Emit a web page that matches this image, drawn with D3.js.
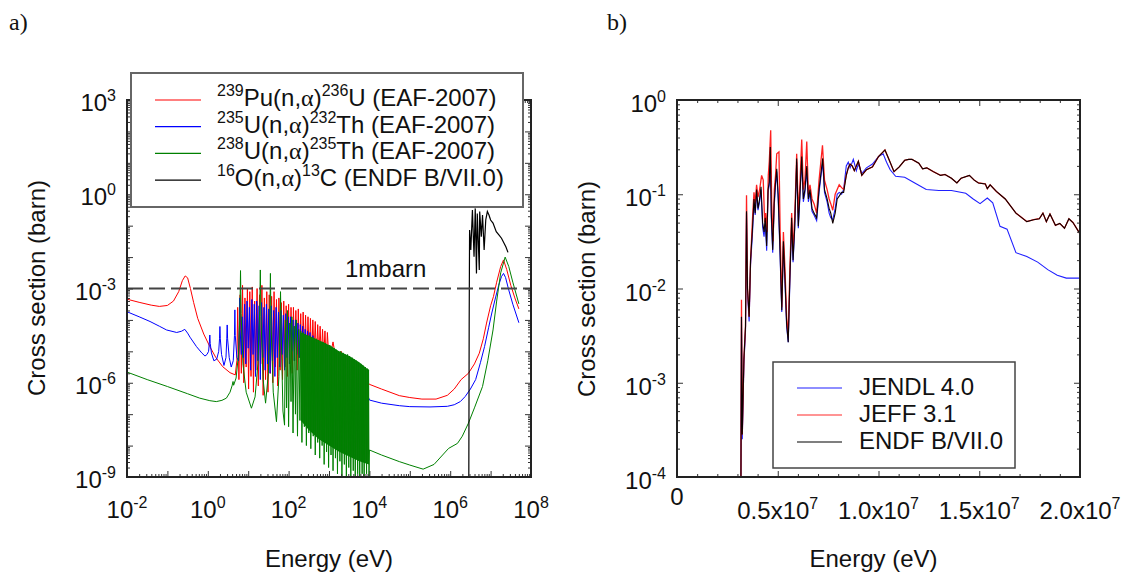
<!DOCTYPE html>
<html><head><meta charset="utf-8">
<script src="https://cdn.jsdelivr.net/npm/d3@7"></script>
<style>
body{margin:0;background:#fff}
text{font-family:"Liberation Sans",Arial,sans-serif;fill:#111}
</style></head>
<body><svg id="chart" width="1126" height="573"></svg>
<script>
// ---------- Panel a data: [log10(E/eV), log10(sigma/barn)] ----------
const pu239 = [[-2,-3.34],[-1.7,-3.44],[-1.4,-3.53],[-1.2,-3.57],[-1.0,-3.54],[-0.85,-3.4],[-0.72,-3.1],[-0.63,-2.75],[-0.56,-2.6],[-0.5,-2.66],[-0.43,-3.0],[-0.35,-3.45],[-0.25,-3.95],[-0.1,-4.45],[0.05,-4.85],[0.2,-5.2],[0.37,-5.49],[0.55,-5.68],[0.68,-5.75],
[0.72,-5.3],[0.74,-3.6],[0.77,-5.9],[0.8,-3.2],[0.83,-5.7],[0.86,-2.9],[0.89,-6.0],[0.92,-3.3],[0.95,-5.5],[0.98,-3.0],[1.01,-6.2],[1.04,-3.1],[1.07,-5.8],[1.1,-2.95],[1.13,-6.3],[1.16,-3.4],[1.19,-5.6],[1.22,-3.0],[1.25,-6.1],[1.28,-3.2],[1.31,-5.4],[1.34,-2.9],[1.37,-6.4],[1.40,-3.3],[1.43,-5.9],[1.46,-3.1],[1.49,-6.3],[1.52,-3.2],[1.55,-5.7],[1.58,-3.25],[1.61,-6.0],[1.64,-3.1],[1.67,-5.5],[1.70,-3.35],[1.73,-6.1],[1.76,-3.3],[1.79,-5.6],[1.82,-3.45],[1.85,-5.9],[1.88,-3.4],[1.91,-5.5],[1.94,-3.55],[1.97,-5.8],[2.0,-3.5],[2.03,-5.4],[2.06,-3.6],[2.09,-5.7],[2.12,-3.6],[2.15,-5.3],[2.18,-3.7],[2.21,-5.6],[2.24,-3.65],[2.27,-5.2],[2.30,-3.8],[2.33,-5.5],[2.36,-3.75],[2.39,-5.1],[2.42,-3.85],[2.45,-5.4],[2.48,-3.9],[2.51,-5.2],[2.54,-3.95],[2.57,-5.3],[2.60,-4.0],[2.63,-5.1],[2.66,-4.05],[2.69,-5.3],[2.72,-4.15],[2.75,-5.2],[2.78,-4.2],[2.81,-5.3],[2.84,-4.3],[2.87,-5.2],[2.90,-4.35],[2.93,-5.4],[2.96,-4.4],[3.0,-5.3],[3.1,-4.7],[3.2,-5.5],[3.3,-5.0],[3.5,-5.6],[3.7,-5.4],[3.9,-5.9],
[4.0,-6.05],[4.3,-6.2],[4.74,-6.41],[5.0,-6.47],[5.3,-6.52],[5.65,-6.52],[5.93,-6.4],[6.1,-6.2],[6.27,-5.9],[6.45,-5.7],[6.6,-5.4],[6.72,-5.06],[6.82,-4.6],[6.9,-4.1],[7.0,-3.55],[7.07,-3.26],[7.15,-2.8],[7.25,-2.3],[7.32,-2.09],[7.4,-2.4],[7.5,-2.9],[7.6,-3.3],[7.7,-3.65]];

const u235 = [[-2,-3.74],[-1.7,-3.9],[-1.43,-4.05],[-1.2,-4.2],[-1.02,-4.32],[-0.77,-4.4],[-0.65,-4.36],[-0.57,-4.3],[-0.5,-4.42],[-0.44,-4.55],[-0.28,-4.85],[-0.15,-5.05],[-0.07,-5.15],[-0.02,-5.1],[0.02,-5.0],[0.04,-4.7],[0.05,-4.48],[0.06,-4.75],[0.09,-5.05],[0.15,-5.3],[0.22,-5.25],[0.27,-5.0],[0.29,-4.6],[0.3,-4.21],[0.31,-4.6],[0.34,-5.1],[0.4,-5.45],[0.45,-5.2],[0.47,-4.6],[0.48,-4.16],[0.49,-4.6],[0.53,-5.2],[0.58,-5.5],[0.63,-5.3],[0.66,-4.5],[0.67,-3.68],[0.68,-4.5],[0.72,-5.2],[0.76,-5.3],[0.78,-4.3],[0.79,-3.3],[0.80,-4.3],[0.83,-5.1],
[0.85,-3.9],[0.88,-5.2],[0.91,-3.5],[0.94,-5.4],[0.97,-3.4],[1.0,-4.9],[1.03,-3.6],[1.06,-5.6],[1.09,-3.35],[1.12,-5.1],[1.15,-3.5],[1.18,-5.8],[1.21,-3.4],[1.24,-5.3],[1.27,-3.55],[1.30,-5.9],[1.33,-3.45],[1.36,-5.2],[1.39,-3.6],[1.42,-5.6],[1.45,-3.5],[1.48,-5.4],[1.51,-3.65],[1.54,-5.7],[1.57,-3.55],[1.60,-5.3],[1.63,-3.7],[1.66,-5.8],[1.69,-3.6],[1.72,-5.2],[1.75,-3.75],[1.78,-5.5],[1.81,-3.7],[1.84,-5.1],[1.87,-3.85],[1.90,-5.6],[1.93,-3.8],[1.96,-5.2],[1.99,-3.9],[2.02,-5.4],[2.05,-3.9],[2.08,-5.0],[2.11,-4.0],[2.14,-5.3],[2.17,-4.0],[2.20,-5.1],[2.23,-4.1],[2.26,-5.2],[2.29,-4.15],[2.32,-5.0],[2.35,-4.2],[2.38,-5.3],[2.41,-4.3],[2.44,-5.1],[2.47,-4.35],[2.50,-5.2],[2.53,-4.4],[2.56,-5.3],[2.6,-4.5],[2.7,-5.4],[2.8,-4.7],[3.0,-5.5],[3.2,-5.2],[3.5,-5.9],[3.8,-5.8],
[4.0,-6.55],[4.3,-6.65],[4.74,-6.73],[5.0,-6.76],[5.5,-6.77],[5.93,-6.75],[6.1,-6.7],[6.25,-6.6],[6.37,-6.44],[6.5,-6.2],[6.63,-5.9],[6.75,-5.35],[6.85,-4.85],[6.95,-4.25],[7.03,-3.78],[7.12,-3.3],[7.2,-2.9],[7.27,-2.62],[7.32,-2.52],[7.37,-2.65],[7.45,-3.05],[7.55,-3.5],[7.7,-4.09]];

const u238 = [[-2,-5.66],[-1.5,-5.9],[-1.0,-6.12],[-0.5,-6.35],[-0.2,-6.49],[0.05,-6.57],[0.21,-6.6],[0.35,-6.56],[0.46,-6.49],[0.55,-6.3],[0.6,-6.1],[0.625,-5.96],[0.64,-6.08],[0.7,-5.85],[0.76,-5.1],[0.795,-3.8],[0.81,-2.43],[0.825,-3.8],[0.87,-5.4],[0.95,-6.3],[1.08,-6.81],[1.17,-6.45],[1.24,-5.4],[1.285,-3.7],[1.3,-2.41],[1.315,-3.9],[1.37,-5.9],[1.43,-6.65],[1.5,-5.7],[1.535,-4.0],[1.55,-2.52],[1.565,-4.1],[1.62,-6.3],[1.7,-7.24],[1.76,-5.8],[1.79,-3.9],[1.8,-3.1],[1.82,-4.6],[1.86,-6.9],[1.9,-7.35],
[1.92,-4.0],[1.95,-6.8],[1.97,-3.7],[2.0,-7.4],[2.03,-4.1],[2.06,-6.6],[2.08,-3.9],[2.11,-7.6],[2.14,-4.2],[2.17,-7.0],[2.19,-4.0],[2.22,-7.7],[2.25,-4.3],[2.28,-7.2],[2.30,-4.35],[2.33,-7.9],[2.36,-4.4],[2.39,-7.4],[2.41,-4.45],[2.44,-8.0],[2.47,-4.5],[2.50,-7.6],[2.52,-4.5],[2.55,-8.1],[2.58,-4.55],[2.61,-7.7],[2.63,-4.6],[2.66,-8.3],[2.69,-4.6],[2.72,-7.9],[2.74,-4.65],[2.77,-8.4],[2.80,-4.7],[2.83,-8.0],[2.85,-4.7],[2.88,-8.6],[2.91,-4.75],[2.94,-8.2],[2.96,-4.8],[2.99,-8.7],[3.02,-4.8],[3.05,-8.3],[3.07,-4.85],[3.10,-8.8],[3.13,-4.9],[3.16,-8.4],[3.18,-4.95],[3.21,-8.9],[3.24,-5.0],[3.27,-8.5],[3.29,-5.0],[3.32,-9.0],[3.35,-5.05],[3.38,-8.6],[3.40,-5.1],[3.43,-9.0],[3.46,-5.1],[3.49,-8.7],[3.51,-5.15],[3.54,-9.0],[3.57,-5.2],[3.60,-8.8],[3.62,-5.25],[3.65,-9.0],[3.68,-5.3],[3.71,-8.9],[3.73,-5.35],[3.76,-9.0],[3.79,-5.4],[3.82,-8.9],[3.84,-5.45],[3.87,-9.0],[3.90,-5.5],[3.93,-8.9],[3.95,-5.55],[3.98,-5.6],[3.99,-9.0],[4.0,-8.14],
[4.3,-8.3],[4.74,-8.51],[5.0,-8.62],[5.33,-8.75],[5.6,-8.6],[5.96,-8.09],[6.18,-7.93],[6.3,-7.7],[6.45,-7.29],[6.6,-6.8],[6.8,-6.12],[6.93,-5.3],[7.06,-4.32],[7.15,-3.4],[7.25,-2.5],[7.36,-2.0],[7.45,-2.3],[7.55,-2.8],[7.7,-3.49]];

// dense U-238 resonance band (solid core), log10 E with upper / lower log10 sigma
const u238BandE  = [2.3,2.5,2.75,3.0,3.25,3.5,3.75,3.99];
const u238BandHi = [-4.4,-4.5,-4.65,-4.8,-5.0,-5.15,-5.35,-5.6];
const u238BandLo = [-7.2,-7.5,-7.8,-8.0,-8.2,-8.35,-8.5,-8.6];

const o16 = [[6.46,-9.5],[6.47,-4.0],[6.475,-2.5],[6.48,-1.14],[6.51,-1.77],[6.55,-0.5],[6.59,-1.99],[6.62,-0.45],[6.65,-2.52],[6.67,-0.61],[6.72,-2.41],[6.73,-0.55],[6.77,-1.35],[6.8,-0.66],[6.84,-1.77],[6.88,-0.82],[6.92,-0.55],[6.96,-0.66],[7.0,-0.82],[7.06,-0.92],[7.14,-1.19],[7.21,-1.3],[7.27,-1.4],[7.33,-1.55],[7.38,-1.68],[7.43,-1.85]];

const oneMbarn = 1e-3;

// ---------- Panel b data: [E in MeV, log10(sigma/barn)] ----------
const endf = [[3.17,-4.2],[3.2,-2.3],[3.24,-3.55],[3.32,-2.75],[3.4,-2.4],[3.45,-1.18],[3.5,-2.0],[3.58,-2.3],[3.65,-1.7],[3.75,-1.35],[3.82,-1.05],[3.88,-1.2],[3.95,-0.95],[4.02,-1.15],[4.1,-1.05],[4.17,-0.92],[4.25,-1.3],[4.32,-1.4],[4.38,-1.25],[4.45,-1.55],[4.52,-0.95],[4.58,-0.87],[4.63,-0.5],[4.68,-1.2],[4.75,-1.59],[4.82,-1.1],[4.88,-0.9],[4.95,-0.73],[5.02,-1.0],[5.1,-1.5],[5.2,-2.23],[5.28,-1.5],[5.36,-1.9],[5.44,-2.37],[5.52,-2.57],[5.6,-1.9],[5.69,-1.25],[5.76,-1.7],[5.84,-1.35],[5.94,-0.62],[6.02,-1.34],[6.1,-1.0],[6.19,-0.6],[6.27,-1.05],[6.35,-0.95],[6.44,-0.7],[6.52,-1.05],[6.6,-0.95],[6.7,-1.15],[6.8,-1.2],[6.93,-1.25],[7.05,-0.95],[7.23,-0.62],[7.32,-0.95],[7.45,-1.05],[7.55,-1.15],[7.63,-1.2],[7.73,-1.31],[7.85,-1.2],[7.95,-1.05],[8.05,-1.02],[8.17,-0.98],[8.27,-0.98],[8.4,-0.8],[8.5,-0.72],[8.59,-0.68],[8.7,-0.7],[8.8,-0.75],[9.0,-0.65],[9.17,-0.8],[9.4,-0.74],[9.7,-0.71],[10.0,-0.6],[10.23,-0.55],[10.32,-0.53],[10.5,-0.62],[10.77,-0.76],[11.03,-0.71],[11.3,-0.64],[11.5,-0.63],[11.66,-0.63],[12.0,-0.67],[12.19,-0.73],[12.4,-0.72],[12.72,-0.76],[13.08,-0.8],[13.3,-0.79],[13.62,-0.83],[13.89,-0.88],[14.1,-0.83],[14.51,-0.8],[14.75,-0.85],[14.96,-0.88],[15.3,-0.89],[15.4,-0.94],[15.54,-0.9],[15.85,-0.97],[16.29,-1.05],[16.82,-1.2],[17.36,-1.29],[17.7,-1.27],[17.98,-1.26],[18.16,-1.2],[18.33,-1.29],[18.51,-1.21],[18.78,-1.33],[19.0,-1.31],[19.23,-1.36],[19.45,-1.26],[19.65,-1.3],[20.0,-1.42]];

const jeffLow = [[3.17,-4.2],[3.2,-2.12],[3.24,-3.55],[3.32,-2.75],[3.4,-2.4],[3.45,-1.01],[3.5,-2.0],[3.58,-2.3],[3.65,-1.7],[3.75,-1.25],[3.82,-0.98],[3.88,-1.1],[3.95,-0.9],[4.02,-1.03],[4.1,-0.95],[4.2,-0.8],[4.28,-0.85],[4.35,-1.3],[4.4,-1.2],[4.47,-1.4],[4.53,-0.8],[4.58,-0.65],[4.65,-0.32],[4.7,-1.1],[4.77,-1.5],[4.83,-0.95],[4.89,-0.8],[4.95,-0.57],[5.06,-0.55],[5.12,-1.4],[5.2,-2.2],[5.28,-1.4],[5.36,-1.8],[5.44,-2.3],[5.52,-2.5],[5.6,-1.8],[5.69,-1.2],[5.76,-1.6],[5.84,-1.25],[5.94,-0.57],[6.02,-1.2],[6.1,-0.9],[6.19,-0.42],[6.27,-0.95],[6.35,-0.85],[6.44,-0.44],[6.52,-1.0],[6.6,-0.9],[6.7,-1.05],[6.8,-1.1],[6.93,-1.2],[7.05,-0.85],[7.22,-0.48],[7.32,-0.85],[7.45,-0.95],[7.55,-1.05],[7.63,-1.1],[7.73,-1.17],[7.85,-1.0],[7.95,-0.95],[8.05,-0.9],[8.17,-0.93],[8.27,-0.95]];

const jendl = [[3.17,-4.2],[3.2,-2.3],[3.24,-3.6],[3.32,-2.8],[3.4,-2.45],[3.45,-1.2],[3.5,-2.05],[3.58,-2.35],[3.65,-1.75],[3.75,-1.4],[3.82,-1.08],[3.88,-1.22],[3.95,-0.97],[4.02,-1.17],[4.1,-1.08],[4.17,-0.95],[4.25,-1.35],[4.32,-1.45],[4.38,-1.3],[4.45,-1.6],[4.52,-0.98],[4.58,-0.9],[4.63,-0.55],[4.68,-1.25],[4.75,-1.62],[4.82,-1.15],[4.88,-0.93],[4.95,-0.76],[5.02,-1.05],[5.1,-1.55],[5.2,-2.25],[5.28,-1.55],[5.36,-1.95],[5.44,-2.4],[5.52,-2.57],[5.6,-1.95],[5.69,-1.3],[5.76,-1.72],[5.84,-1.38],[5.94,-0.66],[6.02,-1.36],[6.1,-1.03],[6.19,-0.64],[6.27,-1.08],[6.35,-0.98],[6.44,-0.74],[6.52,-1.08],[6.6,-0.98],[6.7,-1.18],[6.8,-1.22],[6.93,-1.28],[7.05,-0.98],[7.23,-0.66],[7.32,-0.98],[7.45,-1.08],[7.55,-1.2],[7.63,-1.25],[7.73,-1.27],[7.85,-1.15],[7.95,-1.0],[8.05,-0.98],[8.17,-1.0],[8.27,-0.95],[8.4,-0.7],[8.5,-0.66],[8.59,-0.72],[8.75,-0.63],[8.9,-0.75],[9.0,-0.68],[9.17,-0.78],[9.4,-0.72],[9.7,-0.68],[10.0,-0.6],[10.23,-0.57],[10.4,-0.66],[10.58,-0.74],[10.85,-0.81],[11.3,-0.82],[11.8,-0.88],[12.37,-0.95],[13.0,-0.96],[13.62,-0.96],[14.33,-0.99],[14.7,-1.05],[15.04,-1.1],[15.4,-1.04],[15.67,-1.09],[16.03,-1.34],[16.38,-1.37],[16.82,-1.62],[17.36,-1.66],[17.9,-1.72],[18.4,-1.8],[18.87,-1.86],[19.32,-1.89],[20.0,-1.89]];

// ---------- tick labels ----------
const aXTicks = [["10","-2",1e-2],["10","0",1e0],["10","2",1e2],["10","4",1e4],["10","6",1e6],["10","8",1e8]];
const aYTicks = [["10","3",1e3],["10","0",1e0],["10","-3",1e-3],["10","-6",1e-6],["10","-9",1e-9]];
const bXTicks = [["0.5x10","7",5e6],["1.0x10","7",1e7],["1.5x10","7",1.5e7],["2.0x10","7",2e7]];
const bYTicks = [["10","0",1e0],["10","-1",1e-1],["10","-2",1e-2],["10","-3",1e-3],["10","-4",1e-4]];

// ---------- legends ----------
const legendA = [
  {color:"#ff0000", pre:"239", a:"Pu(n,", b:")", post:"236", tail:"U (EAF-2007)"},
  {color:"#0000ff", pre:"235", a:"U(n,", b:")", post:"232", tail:"Th (EAF-2007)"},
  {color:"#008000", pre:"238", a:"U(n,", b:")", post:"235", tail:"Th (EAF-2007)"},
  {color:"#000000", pre:"16",  a:"O(n,", b:")", post:"13",  tail:"C (ENDF B/VII.0)"}
];
const legendB = [["JENDL 4.0","#1f1fff"],["JEFF 3.1","#ff2a2a"],["ENDF B/VII.0","#000000"]];

// ================= drawing =================
const svg = d3.select("#chart");
const P = v => Math.pow(10, v);

const A = {x0:127, x1:531, y0:100, y1:477};
const B = {x0:677, x1:1080, y0:100, y1:477};

const xA = d3.scaleLog().domain([1e-2,1e8]).range([A.x0,A.x1]);
const yA = d3.scaleLog().domain([1e-9,1e3]).range([A.y1,A.y0]);
const xB = d3.scaleLinear().domain([0,2e7]).range([B.x0,B.x1]);
const yB = d3.scaleLog().domain([1e-4,1]).range([B.y1,B.y0]);

function logTicks(lo, hi){
  const maj=[], min=[];
  for(let e=lo;e<=hi;e++){ maj.push(P(e)); if(e<hi) for(let k=2;k<=9;k++) min.push(k*P(e)); }
  return {maj,min};
}

function addTicks(R, x, y, xMaj, xMin, yMaj, yMin){
  const g = svg.append("g").attr("class","ticks");
  const mk = (axisFn, scale, vals, size, tr) => {
    const ax = g.append("g").attr("transform",tr).call(axisFn(scale).tickValues(vals).tickSize(size).tickFormat(""));
    ax.select(".domain").remove();
    ax.selectAll("line").attr("stroke","#333").attr("stroke-width",1);
  };
  mk(d3.axisBottom, x, xMaj, -6, `translate(0,${R.y1})`);
  mk(d3.axisBottom, x, xMin, -3, `translate(0,${R.y1})`);
  mk(d3.axisTop, x, xMaj, -6, `translate(0,${R.y0})`);
  mk(d3.axisTop, x, xMin, -3, `translate(0,${R.y0})`);
  mk(d3.axisLeft, y, yMaj, -6, `translate(${R.x0},0)`);
  mk(d3.axisLeft, y, yMin, -3, `translate(${R.x0},0)`);
  mk(d3.axisRight, y, yMaj, -6, `translate(${R.x1},0)`);
  mk(d3.axisRight, y, yMin, -3, `translate(${R.x1},0)`);
}

function supText(x, y, base, exp, anchor){
  const t = svg.append("text").attr("x",x).attr("y",y).attr("text-anchor",anchor).attr("font-size",24);
  t.append("tspan").text(base);
  if(exp) t.append("tspan").attr("dy",-10).attr("font-size",16).text(exp);
  return t;
}

function clip(id, R){
  svg.append("clipPath").attr("id",id).append("rect")
    .attr("x",R.x0).attr("y",R.y0).attr("width",R.x1-R.x0).attr("height",R.y1-R.y0);
}
clip("clipA", A); clip("clipB", B);

// ----- Panel a -----
const gA = svg.append("g").attr("clip-path","url(#clipA)");
const lineA = d3.line().x(d=>xA(P(d[0]))).y(d=>yA(P(d[1])));
gA.append("path").datum(pu239).attr("d",lineA).attr("fill","none").attr("stroke","#ff0000").attr("stroke-width",1);
gA.append("path").datum(u235).attr("d",lineA).attr("fill","none").attr("stroke","#0000ff").attr("stroke-width",1);
const band = u238BandE.map((e,i)=>[e,u238BandHi[i],u238BandLo[i]]);
gA.append("path").datum(band)
  .attr("d", d3.area().x(d=>xA(P(d[0]))).y0(d=>yA(P(d[2]))).y1(d=>yA(P(d[1]))))
  .attr("fill","#0a7d0a");
gA.append("path").datum(u238).attr("d",lineA).attr("fill","none").attr("stroke","#008000").attr("stroke-width",1);
gA.append("path").datum(o16).attr("d",lineA).attr("fill","none").attr("stroke","#000").attr("stroke-width",1.2);
// 1 mbarn line
svg.append("line").attr("x1",A.x0).attr("x2",A.x1).attr("y1",yA(oneMbarn)).attr("y2",yA(oneMbarn))
  .attr("stroke","#444").attr("stroke-width",2).attr("stroke-dasharray","16,6");
svg.append("text").attr("x",345).attr("y",277).attr("font-size",24).text("1mbarn");

const tA_x = logTicks(-2,8), tA_y = logTicks(-9,3);
addTicks(A, xA, yA, tA_x.maj, tA_x.min, tA_y.maj, tA_y.min);
svg.append("rect").attr("x",A.x0).attr("y",A.y0).attr("width",A.x1-A.x0).attr("height",A.y1-A.y0)
  .attr("fill","none").attr("stroke","#222").attr("stroke-width",2);

aXTicks.forEach(t=>supText(xA(t[2]), 518, t[0], t[1], "middle"));
aYTicks.forEach(t=>supText(A.x0-11, yA(t[2])+11, t[0], t[1], "end"));

// legend a
svg.append("rect").attr("x",131).attr("y",73).attr("width",392).attr("height",134)
  .attr("fill","#fff").attr("stroke","#666").attr("stroke-width",2);
legendA.forEach((d,i)=>{
  const yy = 100 + i*26.7;
  svg.append("line").attr("x1",155).attr("x2",201).attr("y1",yy).attr("y2",yy).attr("stroke",d.color).attr("stroke-width",1.2);
  const t = svg.append("text").attr("x",217).attr("y",yy+6).attr("font-size",24);
  t.append("tspan").attr("dy",-10).attr("font-size",16).text(d.pre);
  t.append("tspan").attr("dy",10).text(d.a);
  t.append("tspan").attr("style","font-family:'Liberation Serif',serif").attr("font-size",24).text("α");
  t.append("tspan").text(d.b);
  t.append("tspan").attr("dy",-10).attr("font-size",16).text(d.post);
  t.append("tspan").attr("dy",10).text(d.tail);
});

// ----- Panel b -----
const gB = svg.append("g").attr("clip-path","url(#clipB)");
const lineB = d3.line().x(d=>xB(d[0]*1e6)).y(d=>yB(P(d[1])));
const jeff = jeffLow.concat(endf.filter(d=>d[0]>=8.4));
gB.append("path").datum(jendl).attr("d",lineB).attr("fill","none").attr("stroke","#1f1fff").attr("stroke-width",1.1);
gB.append("path").datum(jeff).attr("d",lineB).attr("fill","none").attr("stroke","#ff2020").attr("stroke-width",1.3);
gB.append("path").datum(endf).attr("d",lineB).attr("fill","none").attr("stroke","#100000").attr("stroke-width",1.1);

const bxMaj=[0,5e6,1e7,1.5e7,2e7], bxMin=[];
for(let k=1;k<20;k++) if(k%5) bxMin.push(k*1e6);
const tB_y = logTicks(-4,0);
addTicks(B, xB, yB, bxMaj, bxMin, tB_y.maj, tB_y.min);
svg.append("rect").attr("x",B.x0).attr("y",B.y0).attr("width",B.x1-B.x0).attr("height",B.y1-B.y0)
  .attr("fill","none").attr("stroke","#222").attr("stroke-width",2);

supText(xB(0), 505, "0", null, "middle");
bXTicks.forEach(t=>supText(xB(t[2]), 519, t[0], t[1], "middle"));
bYTicks.forEach(t=>supText(B.x0-11, yB(t[2])+12, t[0], t[1], "end"));

// legend b
svg.append("rect").attr("x",773).attr("y",362).attr("width",242).attr("height",106)
  .attr("fill","#fff").attr("stroke","#444").attr("stroke-width",1.5);
legendB.forEach((d,i)=>{
  const yy = 388 + i*27;
  svg.append("line").attr("x1",797).attr("x2",842).attr("y1",yy).attr("y2",yy).attr("stroke",d[1]).attr("stroke-width",1.2);
  svg.append("text").attr("x",859).attr("y",yy+7).attr("font-size",24).text(d[0]);
});

// ----- titles -----
svg.append("text").attr("x",(A.x0+A.x1)/2).attr("y",567).attr("text-anchor","middle").attr("font-size",24).text("Energy (eV)");
svg.append("text").attr("x",(B.x0+B.x1)/2-5).attr("y",567).attr("text-anchor","middle").attr("font-size",24).text("Energy (eV)");
svg.append("text").attr("transform","translate(45,288) rotate(-90)").attr("text-anchor","middle").attr("font-size",24).text("Cross section (barn)");
svg.append("text").attr("transform","translate(595,289) rotate(-90)").attr("text-anchor","middle").attr("font-size",24).text("Cross section (barn)");
svg.append("text").attr("x",9).attr("y",30).attr("font-size",24).style("font-family","'Liberation Serif',serif").text("a)");
svg.append("text").attr("x",607).attr("y",30).attr("font-size",24).style("font-family","'Liberation Serif',serif").text("b)");
</script></body></html>
